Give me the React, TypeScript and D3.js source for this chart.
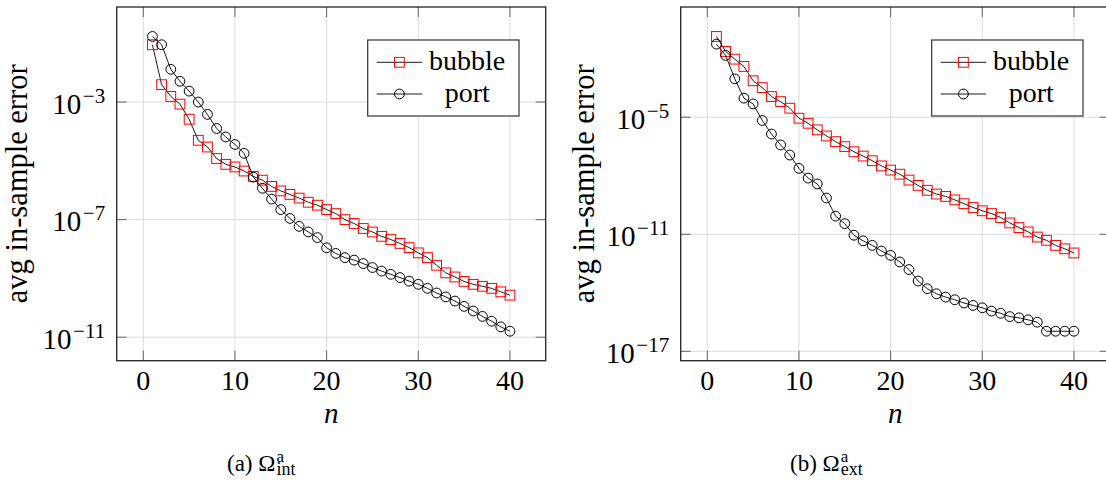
import React from 'react';
import * as d3 from 'd3';

// ---------- data ----------
const nValues = [1, 2, 3, 4, 5, 6, 7, 8, 9, 10, 11, 12, 13, 14, 15, 16, 17, 18, 19, 20,
  21, 22, 23, 24, 25, 26, 27, 28, 29, 30, 31, 32, 33, 34, 35, 36, 37, 38, 39, 40];

const bubbleInt = [8.9e-2, 3.9e-3, 1.55e-3, 8.5e-4, 2.6e-4, 5.0e-5, 2.95e-5, 1.2e-5, 7.6e-6, 6.2e-6,
  4.5e-6, 2.95e-6, 2.2e-6, 1.35e-6, 9.5e-7, 7.2e-7, 5.4e-7, 3.9e-7, 3.1e-7, 2.2e-7,
  1.6e-7, 1.0e-7, 7.4e-8, 5.0e-8, 3.8e-8, 2.7e-8, 2.1e-8, 1.55e-8, 1.12e-8, 7.4e-9,
  5.1e-9, 2.8e-9, 1.55e-9, 1.12e-9, 7.9e-10, 6.3e-10, 5.4e-10, 4.6e-10, 3.5e-10, 2.7e-10];

const portInt = [1.7e-1, 8.9e-2, 1.3e-2, 5.1e-3, 2.35e-3, 1.0e-3, 3.8e-4, 1.26e-4, 6.5e-5, 3.6e-5,
  1.8e-5, 2.8e-6, 1.17e-6, 5.0e-7, 2.2e-7, 1.1e-7, 5.9e-8, 3.8e-8, 2.45e-8, 1.1e-8,
  7.1e-9, 5.1e-9, 4.2e-9, 3.2e-9, 2.35e-9, 1.78e-9, 1.38e-9, 1.07e-9, 8.1e-10, 6.3e-10,
  4.6e-10, 3.2e-10, 2.35e-10, 1.7e-10, 1.12e-10, 7.8e-11, 5.1e-11, 3.5e-11, 2.25e-11, 1.6e-11];

const bubbleExt = [1.38e-1, 2.35e-2, 9.5e-3, 4.0e-3, 7.4e-4, 3.3e-4, 1.15e-4, 6.3e-5, 2.9e-5, 8.9e-6,
  4.9e-6, 2.25e-6, 1.1e-6, 5.6e-7, 3.1e-7, 1.7e-7, 1.02e-7, 5.9e-8, 3.2e-8, 1.95e-8,
  1.2e-8, 6.0e-9, 3.2e-9, 1.8e-9, 1.15e-9, 8.7e-10, 5.8e-10, 3.7e-10, 2.35e-10, 1.6e-10,
  1.15e-10, 7.2e-11, 3.8e-11, 2.2e-11, 1.32e-11, 7.2e-12, 4.9e-12, 2.7e-12, 1.8e-12, 1.1e-12];

const portExt = [5.6e-2, 1.48e-2, 9.3e-4, 9.5e-5, 4.8e-5, 6.8e-6, 1.38e-6, 3.8e-7, 1.15e-7, 2.4e-8,
  7.6e-9, 3.8e-9, 7.2e-10, 8.5e-11, 3.5e-11, 8.9e-12, 4.6e-12, 2.7e-12, 1.38e-12, 8.3e-13,
  3.8e-13, 1.55e-13, 4.0e-14, 1.62e-14, 8.9e-15, 6.0e-15, 4.4e-15, 3.0e-15, 2.25e-15, 1.7e-15,
  1.15e-15, 8.9e-16, 6.0e-16, 5.2e-16, 4.1e-16, 3.1e-16, 1.07e-16, 1.07e-16, 1.07e-16, 1.07e-16];

const xTicks = [0, 10, 20, 30, 40];
const yTickExpInt = [-3, -7, -11];
const yTickExpExt = [-5, -11, -17];
const seriesNames = ['bubble', 'port'];
const yLabel = 'avg in-sample error';
const xLabel = 'n';

// ---------- style ----------
const FONT = 'Liberation Serif';
const RED = '#ff0000';
const GRID = '#dcdcdc';
const TOP = 7;
const BOTTOM = 360.7;
const PW = 429;
const TICK = 10;

type PanelProps = {
  left: number;
  bubble: number[];
  port: number[];
  tickExps: number[];
  ylabelX: number;
  capX: number;
  capLetter: string;
  capSub: string;
};

function Panel({ left, bubble, port, tickExps, ylabelX, capX, capLetter, capSub }: PanelProps) {
  const right = left + PW;
  const [nMin, nMax] = d3.extent(nValues) as [number, number];
  const xPad = 0.1 * (nMax - nMin);
  const x = d3.scaleLinear().domain([nMin - xPad, nMax + xPad]).range([left, right]);

  const logs = [...bubble, ...port].map((v) => Math.log10(v));
  const [lMin, lMax] = d3.extent(logs) as [number, number];
  const yPad = 0.1 * (lMax - lMin);
  const y = d3.scaleLog()
    .domain([Math.pow(10, lMin - yPad), Math.pow(10, lMax + yPad)])
    .range([BOTTOM, TOP]);

  const line = d3.line<number>()
    .x((_, i) => x(nValues[i]))
    .y((d) => y(d));

  const lx = left + 251;
  const ly = 40;
  const legendRows = [
    { name: seriesNames[0], row: 62.3, base: 69.8, kind: 'square' },
    { name: seriesNames[1], row: 94, base: 101.6, kind: 'circle' },
  ];
  const tf = { fontFamily: FONT };

  return (
    <g>
      {xTicks.map((t) => (
        <line key={'gx' + t} x1={x(t)} x2={x(t)} y1={TOP} y2={BOTTOM} stroke={GRID} strokeWidth={1} />
      ))}
      {tickExps.map((e) => (
        <line key={'gy' + e} x1={left} x2={right} y1={y(Math.pow(10, e))} y2={y(Math.pow(10, e))} stroke={GRID} strokeWidth={1} />
      ))}
      {xTicks.map((t) => (
        <g key={'tx' + t} stroke="#666" strokeWidth={1}>
          <line x1={x(t)} x2={x(t)} y1={BOTTOM} y2={BOTTOM - TICK} />
          <line x1={x(t)} x2={x(t)} y1={TOP} y2={TOP + TICK} />
        </g>
      ))}
      {tickExps.map((e) => (
        <g key={'ty' + e} stroke="#666" strokeWidth={1}>
          <line x1={left} x2={left + TICK} y1={y(Math.pow(10, e))} y2={y(Math.pow(10, e))} />
          <line x1={right - TICK} x2={right} y1={y(Math.pow(10, e))} y2={y(Math.pow(10, e))} />
        </g>
      ))}
      <path d={line(bubble) || ''} fill="none" stroke="#000" strokeWidth={0.9} />
      {bubble.map((v, i) => (
        <rect key={'b' + i} x={x(nValues[i]) - 4.9} y={y(v) - 4.9} width={9.8} height={9.8}
          fill="none" stroke={RED} strokeWidth={1} />
      ))}
      <path d={line(port) || ''} fill="none" stroke="#000" strokeWidth={0.9} />
      {port.map((v, i) => (
        <circle key={'p' + i} cx={x(nValues[i])} cy={y(v)} r={4.9} fill="none" stroke="#000" strokeWidth={1} />
      ))}
      <rect x={left} y={TOP} width={PW} height={BOTTOM - TOP} fill="none" stroke="#222" strokeWidth={1.3} />
      {xTicks.map((t) => (
        <text key={'lx' + t} x={x(t)} y={390} textAnchor="middle" style={tf} fontSize={28} fill="#000">{t}</text>
      ))}
      {tickExps.map((e) => (
        <text key={'ly' + e} x={left - 11.5} y={y(Math.pow(10, e)) + 11.5} textAnchor="end" style={tf} fontSize={29} fill="#000">
          10<tspan dx={1.5} dy={-11} fontSize={21}>{'\u2212' + Math.abs(e)}</tspan>
        </text>
      ))}
      <text x={(left + right) / 2} y={423} textAnchor="middle" style={tf} fontStyle="italic" fontSize={29} fill="#000">{xLabel}</text>
      <text transform={`translate(${ylabelX},${(TOP + BOTTOM) / 2}) rotate(-90)`} textAnchor="middle" style={tf} fontSize={30.5} fill="#000">{yLabel}</text>
      <rect x={lx} y={ly} width={151.3} height={76} fill="#fff" stroke="#333" strokeWidth={1.2} />
      {legendRows.map((r) => (
        <g key={r.name}>
          <line x1={lx + 9} x2={lx + 54.5} y1={r.row} y2={r.row} stroke="#000" strokeWidth={0.9} />
          {r.kind === 'square'
            ? <rect x={lx + 31.7 - 4.9} y={r.row - 4.9} width={9.8} height={9.8} fill="none" stroke={RED} strokeWidth={1} />
            : <circle cx={lx + 31.7} cy={r.row} r={4.9} fill="none" stroke="#000" strokeWidth={1} />}
          <text x={lx + 99.5} y={r.base} textAnchor="middle" style={tf} fontSize={28} fill="#000">{r.name}</text>
        </g>
      ))}
      <text x={capX} y={471} style={tf} fontSize={23} fill="#000">
        {'(' + capLetter + ') \u03A9'}
        <tspan dx={1} dy={-9} fontSize={17}>a</tspan>
        <tspan dx={-7.5} dy={13} fontSize={18}>{capSub}</tspan>
      </text>
    </g>
  );
}

export default function App() {
  return (
    <svg width={1106} height={480} style={{ position: 'absolute', left: 0, top: 0, display: 'block', background: '#fff' }}>
      <rect x={0} y={0} width={1106} height={480} fill="#fff" />
      <Panel left={116.7} bubble={bubbleInt} port={portInt} tickExps={yTickExpInt} ylabelX={27.2} capX={227} capLetter="a" capSub="int" />
      <Panel left={680.7} bubble={bubbleExt} port={portExt} tickExps={yTickExpExt} ylabelX={594} capX={790} capLetter="b" capSub="ext" />
    </svg>
  );
}
